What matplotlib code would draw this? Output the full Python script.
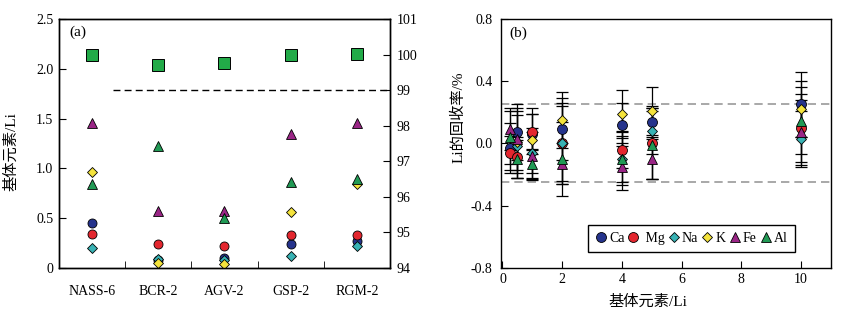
import numpy as np
import matplotlib
matplotlib.use('Agg')
import matplotlib.pyplot as plt

plt.rcParams['font.family'] = ['Liberation Serif', 'Noto Sans CJK SC']
plt.rcParams['font.size'] = 10

# ---- panel (a) data ----
samples = ['NASS-6', 'BCR-2', 'AGV-2', 'GSP-2', 'RGM-2']
ca_a = [0.45, 0.08, 0.10, 0.24, 0.27]
mg_a = [0.34, 0.24, 0.22, 0.33, 0.33]
na_a = [0.20, 0.09, 0.08, 0.12, 0.22]
k_a = [0.96, 0.05, 0.04, 0.56, 0.84]
fe_a = [1.46, 0.57, 0.57, 1.35, 1.46]
al_a = [0.84, 1.22, 0.50, 0.86, 0.89]
li_recovery = [100.0, 99.72, 99.75, 100.0, 100.03]

# ---- panel (b) data ----
nan = np.nan
ratio_b = [0.25, 0.5, 1, 2, 4, 5, 10]
ca_b = [-0.03, 0.07, 0.06, 0.09, 0.12, 0.14, 0.25]
ca_err = [0.16, 0.18, 0.13, 0.20, 0.14, 0.10, 0.21]
mg_b = [-0.06, -0.09, 0.075, 0.0, -0.04, 0.0, 0.10]
mg_err = [0.11, 0.13, 0.115, 0.24, 0.12, 0.23, 0.22]
na_b = [nan, -0.02, -0.06, 0.0, -0.10, 0.08, 0.03]
na_err = [nan, 0.20, 0.16, 0.26, 0.17, 0.15, 0.18]
k_b = [nan, 0.01, 0.02, 0.15, 0.19, 0.21, 0.22]
k_err = [nan, 0.20, 0.21, 0.18, 0.155, 0.155, 0.18]
fe_b = [0.09, 0.03, -0.08, -0.13, -0.15, -0.10, 0.07]
fe_err = [0.135, 0.20, 0.15, 0.13, 0.15, 0.13, 0.21]
al_b = [0.04, -0.10, -0.135, -0.10, -0.10, -0.01, 0.145]
al_err = [0.17, 0.12, 0.10, 0.24, 0.15, 0.22, 0.215]

# element styles: marker, colour, size
styles = {
    'Ca': ('o', '#25338c', 6.5),
    'Mg': ('o', '#e3262e', 6.5),
    'Na': ('D', '#38b2b4', 4.8),
    'K': ('D', '#f4e33c', 4.8),
    'Fe': ('^', '#9a2586', 6.5),
    'Al': ('^', '#219a55', 6.5),
}

fig = plt.figure(figsize=(8.47, 3.09), dpi=100)

# ---------------- (a) ----------------
ax = fig.add_axes([0.0697, 0.1327, 0.3907, 0.8058])
xa = np.arange(len(samples))
for name, vals in [('Ca', ca_a), ('Mg', mg_a), ('Na', na_a), ('K', k_a),
                   ('Fe', fe_a), ('Al', al_a)]:
    m, c, s = styles[name]
    ax.plot(xa, vals, ls='none', marker=m, ms=s, mfc=c, mec='k', mew=0.6, zorder=3)

ax.set_xlim(-0.5, len(samples) - 0.5)
ax.set_ylim(0, 2.5)
ax.set_yticks([0, 0.5, 1.0, 1.5, 2.0, 2.5])
ax.set_yticklabels(['0', '0.5', '1.0', '1.5', '2.0', '2.5'])
ax.set_xticks(xa)
ax.set_xticklabels(samples)
ax.set_xticks(xa[:-1] + 0.5, minor=True)
ax.tick_params(axis='x', which='major', length=0, pad=12)
ax.tick_params(axis='x', which='minor', direction='in', length=5)
ax.tick_params(axis='y', direction='in', length=5, pad=4)
ax.set_ylabel('基体元素/Li', fontsize=11)
ax.yaxis.set_label_coords(-0.124, 0.466)
ax.text(0.03, 0.945, '(a)', transform=ax.transAxes, va='center', fontsize=11)

ax2 = ax.twinx()
ax2.plot(xa, li_recovery, ls='none', marker='s', ms=8, mfc='#22aa48', mec='k', mew=0.7)
ax2.axhline(99, xmin=0.163, xmax=1, color='k', lw=1, ls=(0, (5, 3)))
ax2.set_ylim(94, 101)
ax2.set_yticks(range(94, 102))
ax2.tick_params(axis='y', direction='in', length=5, pad=5)

for a in (ax, ax2):
    for sp in a.spines.values():
        sp.set_linewidth(1.0)

# ---------------- (b) ----------------
bx = fig.add_axes([0.5915, 0.1337, 0.3896, 0.8048])
bx.axhline(0.25, color='#9a9a9a', lw=1.2, ls=(0, (5, 3)), zorder=1)
bx.axhline(-0.25, color='#9a9a9a', lw=1.2, ls=(0, (5, 3)), zorder=1)

series_b = [('Ca', ca_b, ca_err), ('Mg', mg_b, mg_err), ('Na', na_b, na_err),
            ('K', k_b, k_err), ('Fe', fe_b, fe_err), ('Al', al_b, al_err)]
for name, vals, err in series_b:
    bx.errorbar(ratio_b, vals, yerr=err, fmt='none', ecolor='k', elinewidth=0.9,
                capsize=4.5, capthick=0.9, zorder=2)
handles = []
for name, vals, err in series_b:
    m, c, s = styles[name]
    h, = bx.plot(ratio_b, vals, ls='none', marker=m, ms=s * 1.1, mfc=c, mec='k',
                 mew=0.6, zorder=3)
    handles.append(h)

bx.set_xlim(-0.05, 11)
bx.set_ylim(-0.8, 0.8)
bx.set_xticks([0, 2, 4, 6, 8, 10])
bx.set_yticks([-0.8, -0.4, 0.0, 0.4, 0.8])
bx.set_yticklabels(['-0.8', '-0.4', '0.0', '0.4', '0.8'])
bx.tick_params(direction='in', length=5)
bx.tick_params(axis='y', pad=6)
bx.tick_params(axis='x', pad=4)
bx.set_xlabel('基体元素/Li', fontsize=11)
bx.xaxis.set_label_coords(0.445, -0.11)
bx.set_ylabel('Li的回收率/%', fontsize=11)
bx.yaxis.set_label_coords(-0.109, 0.606)
bx.text(0.025, 0.944, '(b)', transform=bx.transAxes, va='center', fontsize=11)
for sp in bx.spines.values():
    sp.set_linewidth(1.0)

leg = bx.legend(handles, ['Ca', ' Mg', 'Na', 'K', 'Fe', 'Al'], ncol=6,
                loc='lower left', bbox_to_anchor=(0.264, 0.064), borderaxespad=0,
                handlelength=0.8, handletextpad=0.2, columnspacing=0.25,
                fancybox=False, edgecolor='k', framealpha=1, fontsize=10,
                borderpad=0.5)
leg.get_frame().set_linewidth(1.0)

fig.savefig('out.png', dpi=100)
